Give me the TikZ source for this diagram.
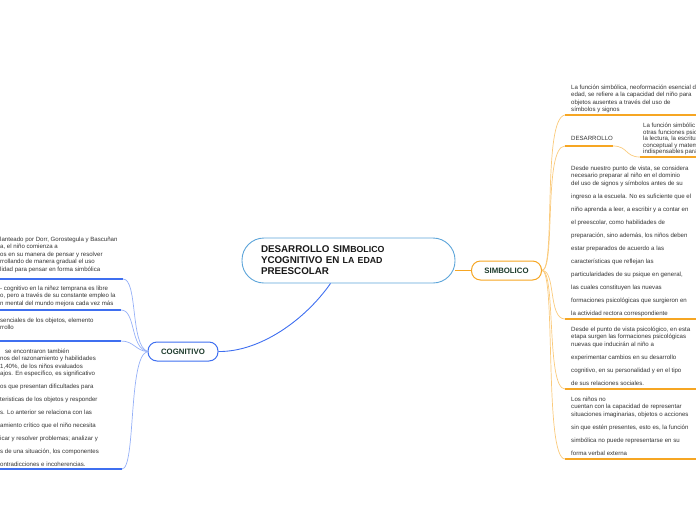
\documentclass[tikz,border=0pt]{standalone}
\usepackage{fontspec}
\setmainfont{Liberation Sans}
\definecolor{cogblue}{HTML}{3F6FF0}
\definecolor{simorange}{HTML}{F6A623}
\definecolor{ctrblue}{HTML}{5DA5DA}
\definecolor{nodegreen}{HTML}{1D3B2C}
\definecolor{txtgray}{HTML}{333333}
\newcommand\leaffont{\fontsize{6.1}{7.2}\selectfont}
\tikzset{
  leaf/.style={anchor=north west, align=left, inner sep=0pt, text=txtgray, font=\leaffont},
  topicbox/.style={draw, rounded corners=9pt, line width=1pt, fill=white, minimum width=70pt, minimum height=19pt, inner sep=1pt, font=\bfseries\fontsize{7.8}{9}\selectfont, text=nodegreen},
  cogline/.style={draw=cogblue, line width=1.6pt},
  cogcurve/.style={draw=cogblue!55, line width=0.7pt},
  simline/.style={draw=simorange, line width=1.6pt},
  simcurve/.style={draw=simorange!60, line width=0.7pt},
}
\begin{document}
\begin{tikzpicture}[x=1pt, y=-1pt]
  \useasboundingbox (0,0) rectangle (696,520);
  \clip (0,0) rectangle (696,520);
  % main topic and the two branches
  \node[draw=ctrblue, line width=0.9pt, fill=white, rounded corners=22pt, minimum width=213pt, minimum height=45pt, inner xsep=19pt, text width=175pt, align=left, text=black!90, font=\bfseries\fontsize{9.8}{11}\selectfont] (ctr) at (348.5,260.5)
    {DESARROLLO SIM{\fontsize{8.8}{11}\selectfont BOLICO}\\YCOGNITIVO EN {\fontsize{8.8}{11}\selectfont LA EDAD}\\PREESCOLAR};
  \node[topicbox, draw=simorange] (sim) at (506.5,270.5) {SIMBOLICO};
  \node[topicbox, draw=cogblue] (cog) at (183,351.5) {COGNITIVO};
  \draw[draw=cogblue, line width=0.9pt] ([xshift=-18pt]ctr.south) .. controls (305,320) and (260,352) .. (cog.east);
  \draw[draw=simorange, line width=0.9pt] (ctr.east |- sim.west) -- (sim.west);
  % COGNITIVO texts
  \node[leaf] (cogt1) at (0,237) {lanteado por Dorr, Gorostegula y Bascuñan\\a, el niño comienza a\\os en su manera de pensar y resolver\\rrollando de manera gradual el uso\\[1.5pt]lidad para pensar en forma simbólica};
  \node[leaf] (cogt2) at (0,286) {- cognitivo en la niñez temprana es libre\\o, pero a través de su constante empleo la\\n mental del mundo mejora cada vez más};
  \node[leaf] (cogt3) at (0,318) {senciales de los objetos, elemento\\rrollo};
  \node[leaf] (cogt4) at (0,349) {\hspace*{5pt}se encontraron también\\nos del razonamiento y habilidades\\1,40\%, de los niños evaluados\\ajos. En específico, es significativo\\[5.8pt]os que presentan dificultades para\\[5.8pt]teristicas de los objetos y responder\\[5.8pt]s. Lo anterior se relaciona con las\\[5.8pt]amiento crítico que el niño necesita\\[5.8pt]icar y resolver problemas; analizar y\\[5.8pt]s de una situación, los componentes\\[5.8pt]ontradicciones e incoherencias.};
  \coordinate (c1a) at (-5,279); \coordinate (c1b) at (123,279);
  \coordinate (c2a) at (-5,310); \coordinate (c2b) at (121,310);
  \coordinate (c3a) at (-5,341); \coordinate (c3b) at (121,341);
  \coordinate (c4a) at (-5,469); \coordinate (c4b) at (122,469);
  \draw[cogline] (c1a) -- (c1b); \draw[cogcurve] (c1b) .. controls (138,279) and (130,345) .. (cog.west);
  \draw[cogline] (c2a) -- (c2b); \draw[cogcurve] (c2b) .. controls (136,310) and (130,348) .. (cog.west);
  \draw[cogline] (c3a) -- (c3b); \draw[cogcurve] (c3b) .. controls (134,341) and (136,351) .. (cog.west);
  \draw[cogline] (c4a) -- (c4b); \draw[cogcurve] (c4b) .. controls (136,469) and (128,356) .. (cog.west);
  % SIMBOLICO texts
  \node[leaf] (simt1) at (571,85) {La función simbólica, neoformación esencial d\\edad, se refiere a la capacidad del niño para\\objetos ausentes a través del uso de\\símbolos y signos};
  \node[leaf] (simdes) at (571,136) {DESARROLLO};
  \node[leaf] (simdesx) at (643,123) {La función simbólic\\[-0.7pt]otras funciones psic\\[-0.7pt]la lectura, la escritu\\[-0.7pt]conceptual y matem\\[-0.7pt]indispensables para};
  \node[leaf] (simt3) at (571,166) {Desde nuestro punto de vista, se considera\\necesario preparar al niño en el dominio\\del uso de signos y símbolos antes de su\\[5.8pt]ingreso a la escuela. No es suficiente que el\\[5.8pt]niño aprenda a leer, a escribir y a contar en\\[5.8pt]el preescolar, como habilidades de\\[5.8pt]preparación, sino además, los niños deben\\[5.8pt]estar preparados de acuerdo a las\\[5.8pt]características que reflejan las\\[5.8pt]particularidades de su psique en general,\\[5.8pt]las cuales constituyen las nuevas\\[5.8pt]formaciones psicológicas que surgieron en\\[5.8pt]la actividad rectora correspondiente};
  \node[leaf] (simt4) at (571,327) {Desde el punto de vista psicológico, en esta\\etapa surgen las formaciones psicológicas\\nuevas que inducirán al niño a\\[5.8pt]experimentar cambios en su desarrollo\\[5.8pt]cognitivo, en su personalidad y en el tipo\\[5.8pt]de sus relaciones sociales.};
  \node[leaf] (simt5) at (571,397) {Los niños no\\cuentan con la capacidad de representar\\situaciones imaginarias, objetos o acciones\\[5.8pt]sin que estén presentes, esto es, la función\\[5.8pt]simbólica no puede representarse en su\\[5.8pt]forma verbal externa};
  \coordinate (s1a) at (565,115); \coordinate (s1b) at (700,115);
  \coordinate (s2a) at (565,146); \coordinate (s2b) at (613,146);
  \coordinate (s2c) at (640,157); \coordinate (s2d) at (700,157);
  \coordinate (s3a) at (565,319); \coordinate (s3b) at (700,319);
  \coordinate (s4a) at (565,389); \coordinate (s4b) at (700,389);
  \coordinate (s5a) at (565,459); \coordinate (s5b) at (700,459);
  \draw[simcurve] (sim.east) .. controls (556,270) and (542,118) .. (s1a); \draw[simline] (s1a) -- (s1b);
  \draw[simcurve] (sim.east) .. controls (556,270) and (543,146) .. (s2a); \draw[simline] (s2a) -- (s2b);
  \draw[simcurve] (s2b) .. controls (628,146) and (625,157) .. (s2c); \draw[simline] (s2c) -- (s2d);
  \draw[simcurve] (sim.east) .. controls (556,270) and (548,319) .. (s3a); \draw[simline] (s3a) -- (s3b);
  \draw[simcurve] (sim.east) .. controls (556,270) and (546,389) .. (s4a); \draw[simline] (s4a) -- (s4b);
  \draw[simcurve] (sim.east) .. controls (556,270) and (544,459) .. (s5a); \draw[simline] (s5a) -- (s5b);
\end{tikzpicture}
\end{document}
